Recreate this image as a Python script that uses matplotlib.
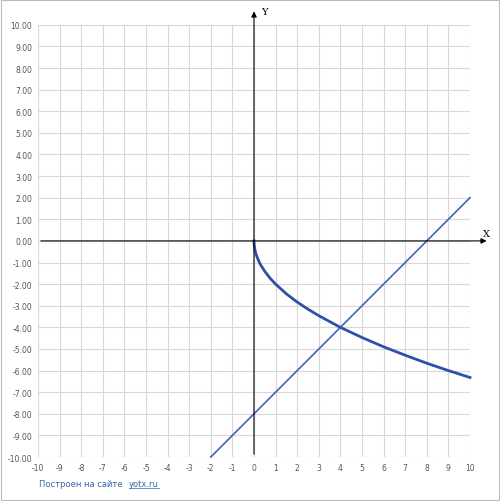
import matplotlib.pyplot as plt

# curve
curve_x = [0, 0.01, 0.05, 0.1, 0.2, 0.3, 0.5, 0.75, 1, 1.5, 2, 2.5, 3, 4, 5, 6, 7, 8, 9, 10]
curve_y = [0, -0.2, -0.45, -0.63, -0.89, -1.1, -1.41, -1.73, -2, -2.45, -2.83, -3.16,
           -3.46, -4, -4.47, -4.9, -5.29, -5.66, -6, -6.32]
# straight line
line_x = [-2, 10]
line_y = [-10, 2]

ticks = list(range(-10, 11))

fig = plt.figure(figsize=(5.0, 5.02), dpi=100)
ax = fig.add_axes([0.076, 0.0876, 0.864, 0.861])
ax.set_xlim(-10, 10)
ax.set_ylim(-10, 10)
ax.set_xticks(ticks)
ax.set_yticks(ticks)
ax.set_xticklabels([str(t) for t in ticks])
ax.set_yticklabels(["%.2f" % t for t in ticks])
ax.tick_params(length=0, labelsize=5.5, colors="#555555", pad=4)
ax.grid(True, color="#d8d8d8", lw=0.8)
for s in ax.spines.values():
    s.set_visible(False)
ax.set_axisbelow(True)

# axes with arrows
ax.annotate("", xy=(10.9, 0), xytext=(-10, 0), annotation_clip=False,
            arrowprops=dict(arrowstyle="-|>", color="black", lw=0.8, mutation_scale=8))
ax.annotate("", xy=(0, 10.75), xytext=(0, -10), annotation_clip=False,
            arrowprops=dict(arrowstyle="-|>", color="black", lw=0.8, mutation_scale=8))
ax.text(10.6, 0.25, "X", fontsize=7, family="DejaVu Serif")
ax.text(0.35, 10.5, "Y", fontsize=7, family="DejaVu Serif")

ax.plot(line_x, line_y, color="#3d62b8", lw=1.2, clip_on=False)
ax.plot(curve_x, curve_y, color="#2f4fa8", lw=2, clip_on=False)

fig.text(0.078, 0.03, "Построен на сайте", fontsize=6, color="#3366aa")
fig.text(0.258, 0.03, "yotx.ru", fontsize=6, color="#3366aa")
fig.add_artist(plt.Line2D([0.258, 0.318], [0.026, 0.026], color="#3366aa", lw=0.5))
fig.add_artist(plt.Rectangle((0.002, 0.002), 0.996, 0.996, fill=False, ec="#bbbbbb", lw=0.8))

fig.savefig("out.png", dpi=100)
